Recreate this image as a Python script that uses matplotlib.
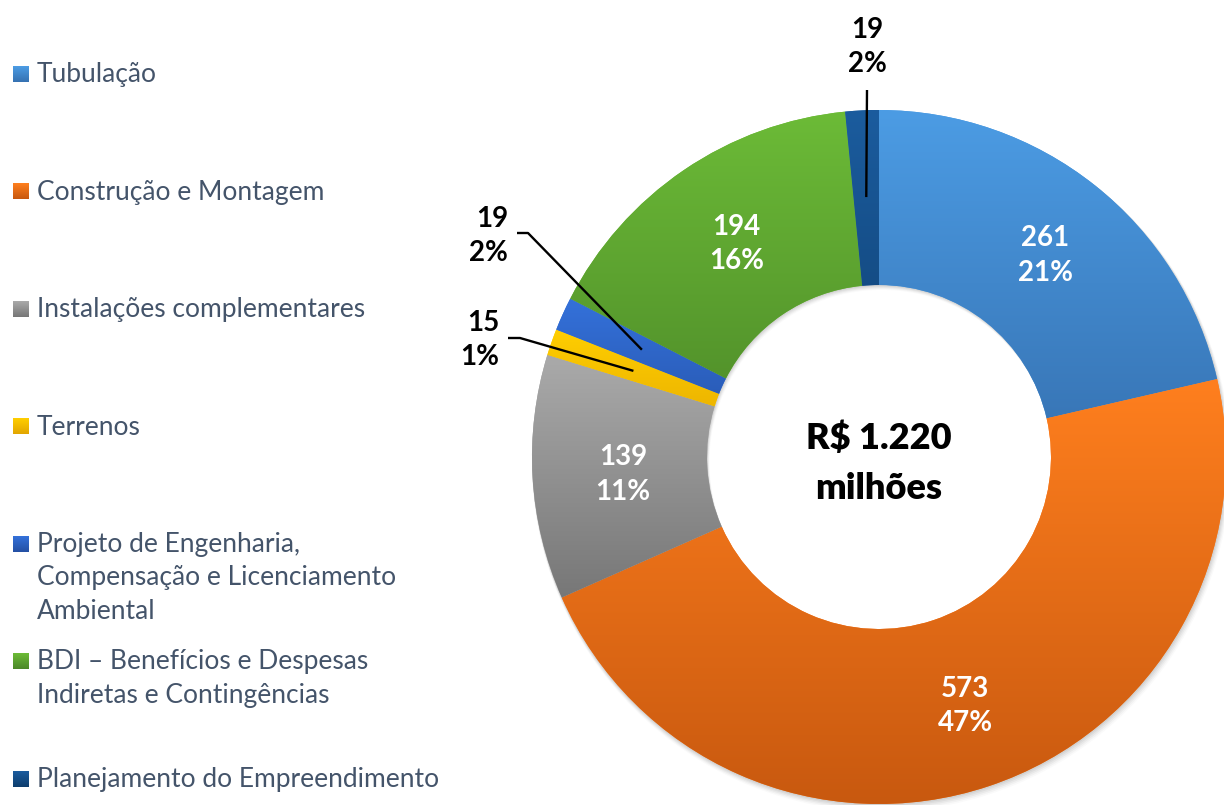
import numpy as np
import matplotlib
matplotlib.use("Agg")
import matplotlib.pyplot as plt
from matplotlib.colors import to_rgb
from matplotlib.patches import Wedge

# ---------------- data ----------------
categories = [
    "Tubulação",
    "Construção e Montagem",
    "Instalações complementares",
    "Terrenos",
    "Projeto de Engenharia,\nCompensação e Licenciamento\nAmbiental",
    "BDI – Benefícios e Despesas\nIndiretas e Contingências",
    "Planejamento do Empreendimento",
]
values = [261, 573, 139, 15, 19, 194, 19]
center_label = ["R$ 1.220", "milhões"]

# gradient colours (top, bottom)
colors_top = ["#4C9CE4", "#FF7F1E", "#AAAAAA", "#FFCE00", "#3471DA", "#6CBB37", "#1B5C9E"]
colors_bot = ["#3672B2", "#C7580F", "#777777", "#E2A600", "#2450A4", "#4C8828", "#0E3E6E"]

FONT = "Lato"
W, H = 1224, 805
fig = plt.figure(figsize=(W / 100, H / 100), dpi=100)
ax = fig.add_axes([0, 0, 1, 1])

def py(y):
    return H - y

cx, cy = 879, py(457)
R = 347
RW = 175

# soft shadow
for k, a in zip(range(1, 6), [0.05, 0.045, 0.04, 0.03, 0.02]):
    ax.add_patch(Wedge((cx + 0.5 * k, cy - 1.0 * k), R + 0.5 * k, 0, 360, width=RW + 0.5 * k,
                       facecolor="black", alpha=a, linewidth=0, zorder=0.5))

total = sum(values)
wedges, _ = ax.pie(values, radius=R, center=(cx, cy), startangle=90, counterclock=False,
                   colors=colors_top, wedgeprops=dict(width=RW, linewidth=0, zorder=1),
                   frame=True)

def grad_img(ct, cb, n=256):
    a = np.array(to_rgb(ct)); b = np.array(to_rgb(cb))
    t = np.linspace(0, 1, n)[:, None]
    return (a * (1 - t) + b * t)[:, None, :]

for w, ct, cb in zip(wedges, colors_top, colors_bot):
    v = w.get_path().vertices
    x0, x1 = v[:, 0].min(), v[:, 0].max()
    y0, y1 = v[:, 1].min(), v[:, 1].max()
    im = ax.imshow(grad_img(ct, cb), extent=[x0, x1, y0, y1], origin="upper",
                   aspect="auto", zorder=2, interpolation="bilinear")
    im.set_clip_path(w)

# ---------------- labels ----------------
def mid_point(w, frac=0.75):
    ang = np.deg2rad((w.theta1 + w.theta2) / 2)
    return cx + frac * R * np.cos(ang), cy + frac * R * np.sin(ang)

lab_fs = 20
inside = [0, 1, 2, 5]
for i in inside:
    x, y = mid_point(wedges[i])
    pct = round(values[i] / total * 100)
    ax.text(x + 4, y - 2, f"{values[i]}\n{pct}%", ha="center", va="center", color="white",
            fontsize=lab_fs, fontweight="bold", family=FONT, linespacing=1.4, zorder=5)

# outside labels with leader lines
outside = {
    6: dict(text_xy=(867, 47), ha="center", path=[(867, 90)]),
    4: dict(text_xy=(508, 236), ha="right", path=[(517, 233), (528, 233)]),
    3: dict(text_xy=(499, 340), ha="right", path=[(508, 338), (520, 338)]),
}
for i, d in outside.items():
    pct = round(values[i] / total * 100)
    tx, ty = d["text_xy"]
    ax.text(tx, py(ty), f"{values[i]}\n{pct}%", ha=d["ha"], va="center", color="black",
            fontsize=lab_fs, fontweight="bold", family=FONT, linespacing=1.4,
            multialignment=d["ha"], zorder=5)
    ex, ey = mid_point(wedges[i])
    xs = [p[0] for p in d["path"]] + [ex]
    ys = [py(p[1]) for p in d["path"]] + [ey]
    ax.plot(xs, ys, color="black", lw=1.7, zorder=6, solid_capstyle="butt")

# centre text
ax.text(cx, py(438), center_label[0], ha="center", va="center", fontsize=26,
        fontweight="heavy", family=FONT, color="black", zorder=5)
ax.text(cx, py(488), center_label[1], ha="center", va="center", fontsize=26,
        fontweight="heavy", family=FONT, color="black", zorder=5)

# ---------------- legend ----------------
leg_color = "#44546A"
leg_fs = 19
base0 = 82
step = 117.5
pitch = 33.5
for k, (lab, ct, cb) in enumerate(zip(categories, colors_top, colors_bot)):
    b = base0 + k * step
    ax.imshow(grad_img(ct, cb, 32), extent=[13, 29, py(82 + k * step), py(66 + k * step)],
              origin="upper", aspect="auto", zorder=3)
    for j, line in enumerate(lab.split("\n")):
        ax.text(37, py(b + j * pitch), line, ha="left", va="baseline", fontsize=leg_fs,
                family=FONT, color=leg_color, zorder=5)

ax.set_xlim(0, W)
ax.set_ylim(0, H)
ax.set_aspect("equal")
ax.axis("off")
fig.savefig("out.png", dpi=100, facecolor="white")
